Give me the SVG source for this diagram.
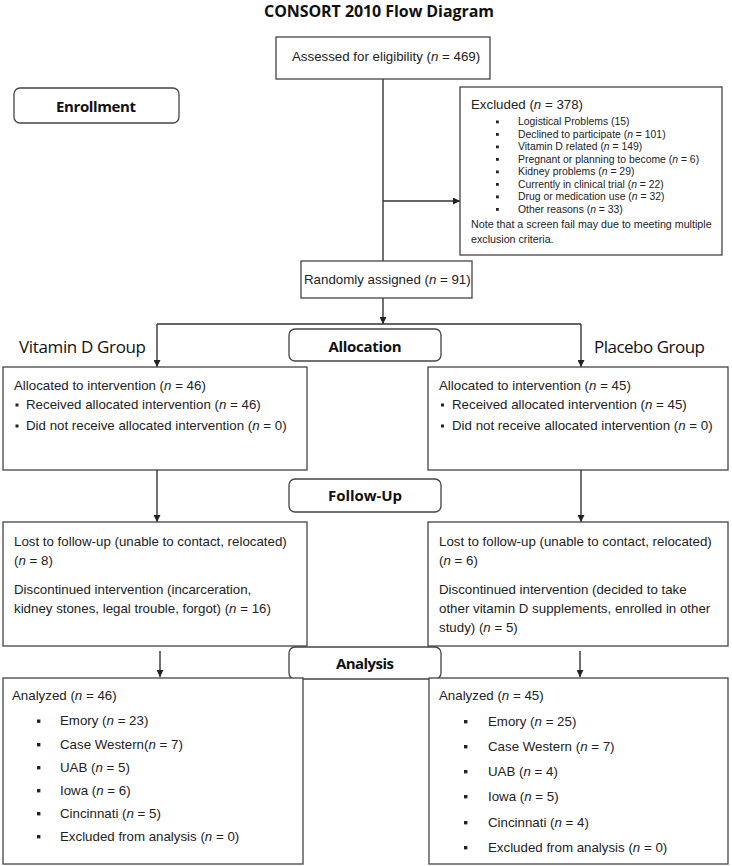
<svg xmlns="http://www.w3.org/2000/svg" width="732" height="866" viewBox="0 0 732 866">
<defs>
<marker id="ah" viewBox="0 0 10 10" refX="10" refY="5" markerWidth="7" markerHeight="7" markerUnits="userSpaceOnUse" orient="auto">
<path d="M0,0 L10,5 L0,10 z" fill="#222"/>
</marker>
<style>
.box{fill:#fff;stroke:#444;stroke-width:1.3}
.lbl{fill:#fff;stroke:#444;stroke-width:1.3}
.t{font-family:"Liberation Sans",Arial,sans-serif;font-size:13.3px;fill:#222}
.s{font-family:"Liberation Sans",Arial,sans-serif;font-size:10.4px;fill:#222}
.h{font-family:"Open Sans","Liberation Sans",sans-serif;font-weight:bold;font-size:15px;fill:#111}
.g{font-family:"Open Sans","Liberation Sans",sans-serif;font-size:17px;fill:#111}
.i{font-style:italic}
.b{fill:#222}
.c{stroke:#333;stroke-width:1.4;fill:none}
</style>
</defs>
<rect width="732" height="866" fill="#fff"/>
<text x="379" y="17" text-anchor="middle" class="h" style="font-size:16px" textLength="230">CONSORT 2010 Flow Diagram</text>

<g id="connectors">
<line class="c" x1="383" y1="79" x2="383" y2="261"/>
<line class="c" x1="383" y1="201" x2="460" y2="201" marker-end="url(#ah)"/>
<line class="c" x1="383" y1="298" x2="383" y2="324" marker-end="url(#ah)"/>
<line class="c" x1="157" y1="324" x2="581" y2="324"/>
<line class="c" x1="157" y1="324" x2="157" y2="367" marker-end="url(#ah)"/>
<line class="c" x1="581" y1="324" x2="581" y2="367" marker-end="url(#ah)"/>
<line class="c" x1="157" y1="470" x2="157" y2="522" marker-end="url(#ah)"/>
<line class="c" x1="581" y1="470" x2="581" y2="522" marker-end="url(#ah)"/>
<line class="c" x1="160" y1="651" x2="160" y2="677" marker-end="url(#ah)"/>
<line class="c" x1="580" y1="651" x2="580" y2="677" marker-end="url(#ah)"/>
</g>

<g id="assessed">
<rect class="box" x="276" y="37" width="214" height="42"/>
<text class="t" x="292" y="61">Assessed for eligibility (<tspan class="i">n</tspan> = 469)</text>
</g>

<g id="enrollment">
<rect class="lbl" x="14" y="88" width="165" height="35" rx="6"/>
<text class="h" x="96" y="112" text-anchor="middle" textLength="80">Enrollment</text>
</g>

<g id="excluded">
<rect class="box" x="460" y="87" width="262" height="168"/>
<text class="t" x="471" y="109">Excluded  (<tspan class="i">n</tspan> = 378)</text>
<rect class="b" x="496" y="120.5" width="2.8" height="2.8"/>
<rect class="b" x="496" y="133" width="2.8" height="2.8"/>
<rect class="b" x="496" y="145.5" width="2.8" height="2.8"/>
<rect class="b" x="496" y="158" width="2.8" height="2.8"/>
<rect class="b" x="496" y="170.5" width="2.8" height="2.8"/>
<rect class="b" x="496" y="183" width="2.8" height="2.8"/>
<rect class="b" x="496" y="195.5" width="2.8" height="2.8"/>
<rect class="b" x="496" y="208" width="2.8" height="2.8"/>
<text class="s" x="518" y="125">Logistical Problems (15)</text>
<text class="s" x="518" y="137.5">Declined to participate (<tspan class="i">n</tspan> = 101)</text>
<text class="s" x="518" y="150">Vitamin D related (<tspan class="i">n</tspan> = 149)</text>
<text class="s" x="518" y="162.5">Pregnant or planning to become (<tspan class="i">n</tspan> = 6)</text>
<text class="s" x="518" y="175">Kidney problems (<tspan class="i">n</tspan> = 29)</text>
<text class="s" x="518" y="187.5">Currently in clinical trial (<tspan class="i">n</tspan> = 22)</text>
<text class="s" x="518" y="200">Drug or medication use (<tspan class="i">n</tspan> = 32)</text>
<text class="s" x="518" y="212.5">Other reasons (<tspan class="i">n</tspan> = 33)</text>
<text class="s" x="471" y="228" style="font-size:10.7px">Note that a screen fail may due to meeting multiple</text>
<text class="s" x="471" y="243" style="font-size:10.7px">exclusion criteria.</text>
</g>

<g id="randomized">
<rect class="box" x="301" y="261" width="171" height="37"/>
<text class="t" x="304" y="284">Randomly assigned (<tspan class="i">n</tspan> = 91)</text>
</g>

<g id="allocation">
<rect class="lbl" x="289" y="329" width="152" height="32" rx="6"/>
<text class="h" x="365" y="352" text-anchor="middle" textLength="73">Allocation</text>
</g>

<g id="group-labels">
<text class="g" x="19" y="353" textLength="127">Vitamin D Group</text>
<text class="g" x="594" y="353" textLength="111">Placebo Group</text>
</g>

<g id="alloc-left">
<rect class="box" x="3" y="367" width="304" height="103"/>
<text class="t" x="14" y="390">Allocated to intervention (<tspan class="i">n</tspan> = 46)</text>
<rect class="b" x="15.5" y="403.5" width="3" height="3"/>
<text class="t" x="26" y="409">Received allocated intervention (<tspan class="i">n</tspan> = 46)</text>
<rect class="b" x="15.5" y="424.5" width="3" height="3"/>
<text class="t" x="26" y="430">Did not receive allocated intervention (<tspan class="i">n</tspan> = 0)</text>
</g>

<g id="alloc-right">
<rect class="box" x="428" y="367" width="300" height="103"/>
<text class="t" x="439" y="390">Allocated to intervention (<tspan class="i">n</tspan> = 45)</text>
<rect class="b" x="441" y="403.5" width="3" height="3"/>
<text class="t" x="452" y="409">Received allocated intervention (<tspan class="i">n</tspan> = 45)</text>
<rect class="b" x="441" y="424.5" width="3" height="3"/>
<text class="t" x="452" y="430">Did not receive allocated intervention (<tspan class="i">n</tspan> = 0)</text>
</g>

<g id="followup">
<rect class="lbl" x="289" y="479" width="152" height="33" rx="6"/>
<text class="h" x="365" y="501" text-anchor="middle" textLength="74">Follow-Up</text>
</g>

<g id="followup-left">
<rect class="box" x="3" y="522" width="304" height="124"/>
<text class="t" x="14" y="546">Lost to follow-up (unable to contact, relocated)</text>
<text class="t" x="14" y="565">(<tspan class="i">n</tspan> = 8)</text>
<text class="t" x="14" y="594">Discontinued intervention (incarceration,</text>
<text class="t" x="14" y="613">kidney stones, legal trouble, forgot) (<tspan class="i">n</tspan> = 16)</text>
</g>

<g id="followup-right">
<rect class="box" x="428" y="522" width="300" height="124"/>
<text class="t" x="439" y="546">Lost to follow-up (unable to contact, relocated)</text>
<text class="t" x="439" y="565">(<tspan class="i">n</tspan> = 6)</text>
<text class="t" x="439" y="594">Discontinued intervention (decided to take</text>
<text class="t" x="439" y="613">other vitamin D supplements, enrolled in other</text>
<text class="t" x="439" y="632">study) (<tspan class="i">n</tspan> = 5)</text>
</g>

<g id="analysis">
<rect class="lbl" x="289" y="647" width="152" height="32" rx="6"/>
<text class="h" x="365" y="669" text-anchor="middle" textLength="58">Analysis</text>
</g>

<g id="analyzed-left">
<rect class="box" x="3" y="678" width="300" height="186"/>
<text class="t" x="12" y="700">Analyzed (<tspan class="i">n</tspan> = 46)</text>
<rect class="b" x="37" y="719.5" width="3.4" height="3.4"/>
<rect class="b" x="37" y="743" width="3.4" height="3.4"/>
<rect class="b" x="37" y="766" width="3.4" height="3.4"/>
<rect class="b" x="37" y="789" width="3.4" height="3.4"/>
<rect class="b" x="37" y="812" width="3.4" height="3.4"/>
<rect class="b" x="37" y="835" width="3.4" height="3.4"/>
<text class="t" x="60" y="725">Emory (<tspan class="i">n</tspan> = 23)</text>
<text class="t" x="60" y="749">Case Western(<tspan class="i">n</tspan> = 7)</text>
<text class="t" x="60" y="772">UAB (<tspan class="i">n</tspan> = 5)</text>
<text class="t" x="60" y="795">Iowa (<tspan class="i">n</tspan> = 6)</text>
<text class="t" x="60" y="818">Cincinnati (<tspan class="i">n</tspan> = 5)</text>
<text class="t" x="60" y="841">Excluded from analysis  (<tspan class="i">n</tspan> = 0)</text>
</g>

<g id="analyzed-right">
<rect class="box" x="429" y="678" width="299" height="186"/>
<text class="t" x="439" y="700">Analyzed  (<tspan class="i">n</tspan> = 45)</text>
<rect class="b" x="464" y="720" width="3.4" height="3.4"/>
<rect class="b" x="464" y="745" width="3.4" height="3.4"/>
<rect class="b" x="464" y="770" width="3.4" height="3.4"/>
<rect class="b" x="464" y="795" width="3.4" height="3.4"/>
<rect class="b" x="464" y="821" width="3.4" height="3.4"/>
<rect class="b" x="464" y="846" width="3.4" height="3.4"/>
<text class="t" x="488" y="726">Emory (<tspan class="i">n</tspan> = 25)</text>
<text class="t" x="488" y="751">Case Western (<tspan class="i">n</tspan> = 7)</text>
<text class="t" x="488" y="776">UAB (<tspan class="i">n</tspan> = 4)</text>
<text class="t" x="488" y="801">Iowa (<tspan class="i">n</tspan> = 5)</text>
<text class="t" x="488" y="827">Cincinnati (<tspan class="i">n</tspan> = 4)</text>
<text class="t" x="488" y="852">Excluded from analysis  (<tspan class="i">n</tspan> = 0)</text>
</g>
</svg>
